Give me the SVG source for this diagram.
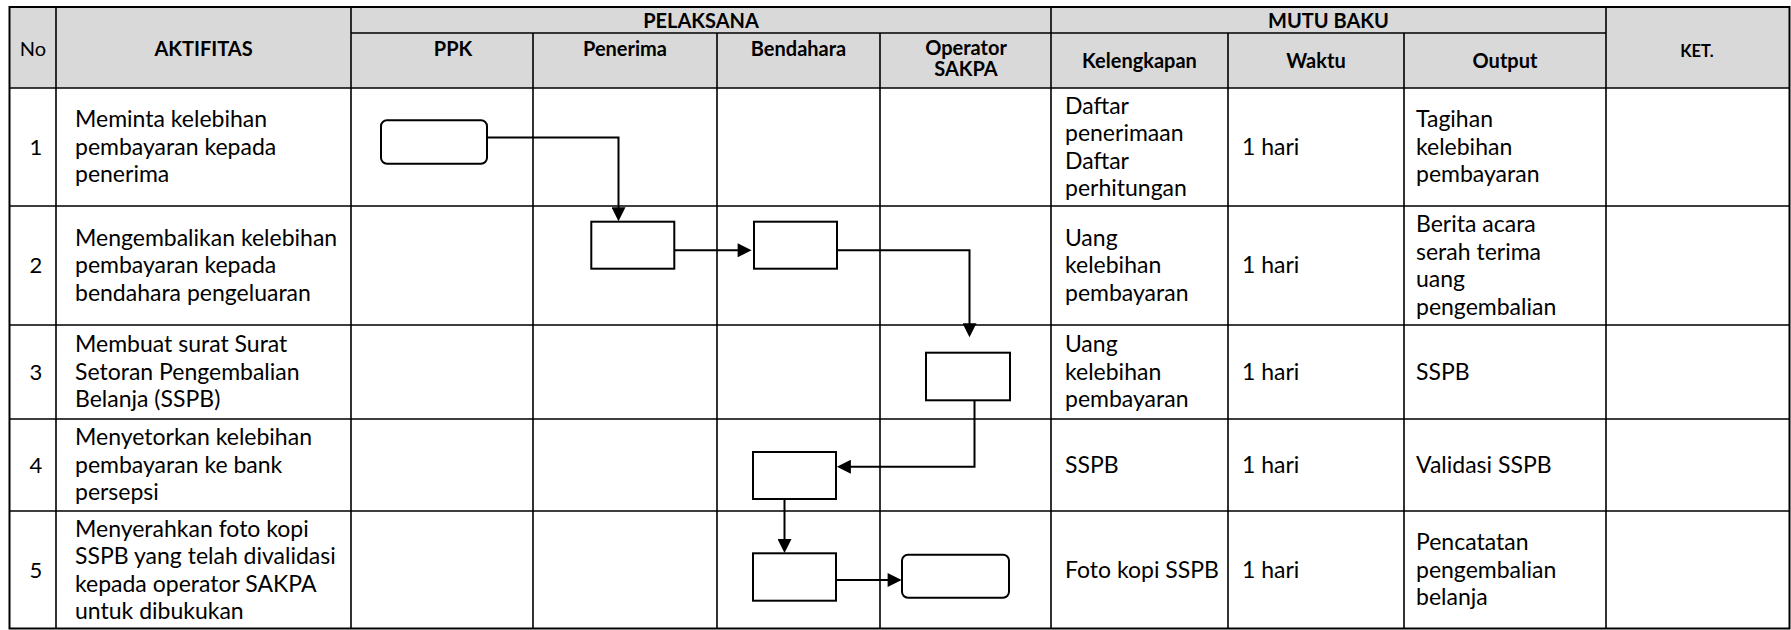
<svg xmlns="http://www.w3.org/2000/svg" width="1791" height="630" viewBox="0 0 1791 630">
<style>
.grid{stroke:#000;stroke-width:1.6;fill:none}
.outer{stroke:#000;stroke-width:2;fill:none}
.hdr{font-family:"Lato","Liberation Sans",sans-serif;font-size:20px;font-weight:bold;fill:#000;text-anchor:middle}
.hdrn{font-family:"Lato","Liberation Sans",sans-serif;font-size:20px;fill:#000;text-anchor:middle}
.ket{font-family:"Lato","Liberation Sans",sans-serif;font-size:16.5px;font-weight:bold;fill:#000;text-anchor:middle}
.t{font-family:"Lato","Liberation Sans",sans-serif;font-size:23px;fill:#000}
.num{font-family:"Lato","Liberation Sans",sans-serif;font-size:22px;fill:#000;text-anchor:middle}
.box{fill:#fff;stroke:#000;stroke-width:2}
.conn{fill:none;stroke:#000;stroke-width:2}
</style>
<defs>
<marker id="arr" viewBox="0 0 10 10" refX="6" refY="5" markerWidth="15" markerHeight="14" markerUnits="userSpaceOnUse" orient="auto">
<path d="M0,0 L10,5 L0,10 z" fill="#000"/>
</marker>
</defs>
<rect width="1791" height="630" fill="#fff"/>
<g id="table">
<rect x="9.5" y="7" width="1780" height="81" fill="#d9d9d9"/>
<path class="grid" d="M56,7V628.5 M351,7V628.5 M533,33V628.5 M717,33V628.5 M880,33V628.5 M1051,7V628.5 M1228,33V628.5 M1404,33V628.5 M1606,7V628.5 M351,33H1606 M9.5,88H1789.5 M9.5,206H1789.5 M9.5,325H1789.5 M9.5,419H1789.5 M9.5,511H1789.5"/>
<rect class="outer" x="9.5" y="7" width="1780" height="621.5"/>
</g>
<g id="header">
<text class="hdrn" x="33" y="56">No</text>
<text class="hdr" x="203.5" y="56">AKTIFITAS</text>
<text class="hdr" x="701" y="28">PELAKSANA</text>
<text class="hdr" x="1328.5" y="28">MUTU BAKU</text>
<text class="hdr" x="453" y="56">PPK</text>
<text class="hdr" x="625" y="56">Penerima</text>
<text class="hdr" x="798.5" y="56">Bendahara</text>
<text class="hdr" x="966" y="55">Operator</text>
<text class="hdr" x="966" y="76">SAKPA</text>
<text class="hdr" x="1139.5" y="68">Kelengkapan</text>
<text class="hdr" x="1316" y="68">Waktu</text>
<text class="hdr" x="1505" y="68">Output</text>
<text class="ket" x="1697" y="57">KET.</text>
</g>
<g id="row1">
<text class="num" x="36" y="154.75">1</text>
<text class="t" x="75" y="127.25">Meminta kelebihan</text>
<text class="t" x="75" y="154.75">pembayaran kepada</text>
<text class="t" x="75" y="182.25">penerima</text>
<text class="t" x="1065" y="113.5">Daftar</text>
<text class="t" x="1065" y="141">penerimaan</text>
<text class="t" x="1065" y="168.5">Daftar</text>
<text class="t" x="1065" y="196">perhitungan</text>
<text class="t" x="1242" y="154.75">1 hari</text>
<text class="t" x="1416" y="127.25">Tagihan</text>
<text class="t" x="1416" y="154.75">kelebihan</text>
<text class="t" x="1416" y="182.25">pembayaran</text>
</g>
<g id="row2">
<text class="num" x="36" y="273.25">2</text>
<text class="t" x="75" y="245.75">Mengembalikan kelebihan</text>
<text class="t" x="75" y="273.25">pembayaran kepada</text>
<text class="t" x="75" y="300.75">bendahara pengeluaran</text>
<text class="t" x="1065" y="245.75">Uang</text>
<text class="t" x="1065" y="273.25">kelebihan</text>
<text class="t" x="1065" y="300.75">pembayaran</text>
<text class="t" x="1242" y="273.25">1 hari</text>
<text class="t" x="1416" y="232">Berita acara</text>
<text class="t" x="1416" y="259.5">serah terima</text>
<text class="t" x="1416" y="287">uang</text>
<text class="t" x="1416" y="314.5">pengembalian</text>
</g>
<g id="row3">
<text class="num" x="36" y="379.75">3</text>
<text class="t" x="75" y="352.25">Membuat surat Surat</text>
<text class="t" x="75" y="379.75">Setoran Pengembalian</text>
<text class="t" x="75" y="407.25">Belanja (SSPB)</text>
<text class="t" x="1065" y="352.25">Uang</text>
<text class="t" x="1065" y="379.75">kelebihan</text>
<text class="t" x="1065" y="407.25">pembayaran</text>
<text class="t" x="1242" y="379.75">1 hari</text>
<text class="t" x="1416" y="379.75">SSPB</text>
</g>
<g id="row4">
<text class="num" x="36" y="472.75">4</text>
<text class="t" x="75" y="445.25">Menyetorkan kelebihan</text>
<text class="t" x="75" y="472.75">pembayaran ke bank</text>
<text class="t" x="75" y="500.25">persepsi</text>
<text class="t" x="1065" y="472.75">SSPB</text>
<text class="t" x="1242" y="472.75">1 hari</text>
<text class="t" x="1416" y="472.75">Validasi SSPB</text>
</g>
<g id="row5">
<text class="num" x="36" y="577.75">5</text>
<text class="t" x="75" y="536.5">Menyerahkan foto kopi</text>
<text class="t" x="75" y="564">SSPB yang telah divalidasi</text>
<text class="t" x="75" y="591.5">kepada operator SAKPA</text>
<text class="t" x="75" y="619">untuk dibukukan</text>
<text class="t" x="1065" y="577.75">Foto kopi SSPB</text>
<text class="t" x="1242" y="577.75">1 hari</text>
<text class="t" x="1416" y="550.25">Pencatatan</text>
<text class="t" x="1416" y="577.75">pengembalian</text>
<text class="t" x="1416" y="605.25">belanja</text>
</g>
<g id="connectors">
<path class="conn" d="M487,137.5 H618.5 V215.7" marker-end="url(#arr)"/>
<path class="conn" d="M674,250.3 H746" marker-end="url(#arr)"/>
<path class="conn" d="M837,250.3 H969.5 V331.7" marker-end="url(#arr)"/>
<path class="conn" d="M974.5,400.3 V466.7 H842.5" marker-end="url(#arr)"/>
<path class="conn" d="M784.5,499 V547.3" marker-end="url(#arr)"/>
<path class="conn" d="M836,580 H896" marker-end="url(#arr)"/>
</g>
<g id="node1"><rect class="box" x="381" y="120.3" width="106" height="43.4" rx="6"/></g>
<g id="node2"><rect class="box" x="591.3" y="221.7" width="83" height="47"/></g>
<g id="node3"><rect class="box" x="754" y="221.7" width="83" height="47"/></g>
<g id="node4"><rect class="box" x="926" y="352.7" width="84" height="47.6"/></g>
<g id="node5"><rect class="box" x="753" y="452" width="83" height="47"/></g>
<g id="node6"><rect class="box" x="753" y="553.3" width="83" height="47.4"/></g>
<g id="node7"><rect class="box" x="902" y="554.7" width="107" height="43" rx="6"/></g>
</svg>
